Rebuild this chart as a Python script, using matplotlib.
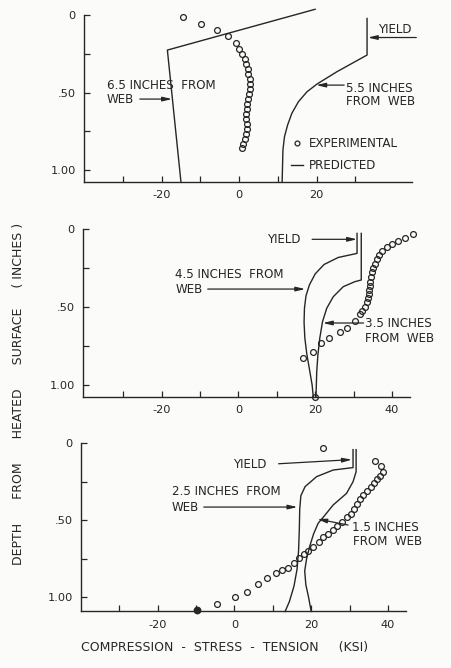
import matplotlib
matplotlib.use("Agg")
import matplotlib.pyplot as plt
from matplotlib.lines import Line2D

INK = "#262626"
BG = "#fbfbf9"
FONT = "DejaVu Sans"
LABEL_SIZE = 8.6
TICK_SIZE = 8.2

# ---- 6.5 / 5.5 inches from web ----
exp1_stress = [-14.6, -9.8, -5.8, -2.8, -0.9, 0.1, 0.8, 1.4, 1.8, 2.2, 2.4, 2.7, 2.8,
               2.8, 2.5, 2.2, 2.0, 2.0, 1.9, 1.9, 2.0, 2.0, 1.9, 1.5, 1.1, 0.8]
exp1_depth = [0.011, 0.060, 0.097, 0.133, 0.183, 0.222, 0.254, 0.286, 0.318, 0.351,
              0.383, 0.415, 0.447, 0.480, 0.512, 0.544, 0.576, 0.609, 0.641, 0.673,
              0.705, 0.738, 0.770, 0.802, 0.834, 0.860]
pred65_stress = [19.6, -18.5, -15.0]
pred65_depth = [-0.037, 0.226, 1.077]
pred55_stress = [33.0, 33.0, 25.2, 20.1, 17.5, 15.3, 13.6, 12.5, 11.7, 11.3, 11.1]
pred55_depth = [0.022, 0.258, 0.366, 0.445, 0.495, 0.559, 0.634, 0.710, 0.785, 0.871, 1.077]

# ---- 4.5 / 3.5 inches from web ----
exp2_stress = [45.4, 43.5, 41.5, 40.1, 38.8, 37.5, 36.7, 36.0, 35.5, 35.1, 34.8, 34.5,
               34.2, 34.2, 34.1, 34.0, 33.8, 33.4, 32.9, 32.3, 31.6, 30.3, 28.3, 26.4,
               23.6, 21.5, 19.3, 16.7, 19.9]
exp2_depth = [0.035, 0.063, 0.080, 0.101, 0.120, 0.144, 0.169, 0.197, 0.225, 0.254,
              0.280, 0.310, 0.340, 0.365, 0.393, 0.421, 0.446, 0.472, 0.500, 0.525,
              0.548, 0.591, 0.634, 0.659, 0.698, 0.734, 0.787, 0.830, 1.075]
pred45_stress = [30.9, 30.9, 26.0, 22.3, 20.0, 18.5, 17.6, 17.2, 17.1, 17.3, 17.8, 18.5, 19.2, 19.5]
pred45_depth = [0.031, 0.159, 0.185, 0.23, 0.29, 0.36, 0.43, 0.51, 0.60, 0.70, 0.80, 0.90, 1.00, 1.077]
pred35_stress = [32.0, 32.0, 30.3, 27.3, 24.7, 23.0, 21.9, 21.2, 20.7, 20.4, 20.2]
pred35_depth = [0.031, 0.329, 0.340, 0.372, 0.436, 0.510, 0.596, 0.700, 0.808, 0.915, 1.077]

# ---- 2.5 / 1.5 inches from web ----
exp3_stress = [23.0, 36.6, 38.3, 38.8, 37.9, 37.2, 36.3, 35.5, 34.6, 33.5, 32.7, 32.0,
               31.1, 30.3, 29.2, 27.9, 26.6, 25.6, 24.4, 23.1, 22.1, 20.5, 19.2, 18.1,
               16.9, 15.6, 14.0, 12.5, 10.8, 8.6, 6.2, 3.2, 0.1, -4.5]
exp3_depth = [0.031, 0.112, 0.147, 0.184, 0.212, 0.234, 0.260, 0.286, 0.309, 0.336,
              0.364, 0.394, 0.427, 0.459, 0.481, 0.509, 0.537, 0.564, 0.590, 0.611,
              0.640, 0.672, 0.698, 0.720, 0.748, 0.780, 0.809, 0.824, 0.846, 0.878,
              0.915, 0.965, 1.002, 1.046]
exp3_solid_stress = [-9.8]
exp3_solid_depth = [1.085]
pred25_stress = [30.9, 30.9, 25.7, 21.4, 18.4, 17.3, 17.0, 16.9, 16.7, 16.3, 15.5, 14.3, 13.2]
pred25_depth = [0.04, 0.157, 0.173, 0.216, 0.281, 0.34, 0.43, 0.56, 0.70, 0.82, 0.93, 1.03, 1.094]
pred15_stress = [31.7, 31.7, 30.9, 29.2, 25.7, 23.6, 21.8, 20.6, 19.6, 18.8, 18.3, 18.6, 19.3, 20.0]
pred15_depth = [0.04, 0.184, 0.249, 0.325, 0.401, 0.466, 0.52, 0.59, 0.67, 0.75, 0.83, 0.92, 1.00, 1.094]

plt.rcParams["font.family"] = FONT
plt.rcParams["text.color"] = INK

fig = plt.figure(figsize=(4.51, 6.68), dpi=100, facecolor=BG)

def panel(rect, xlim, ylim, xmajor):
    ax = fig.add_axes(rect)
    ax.set_facecolor("none")
    ax.set_xlim(xlim)
    ax.set_ylim(ylim)
    for s in ("top", "right"):
        ax.spines[s].set_visible(False)
    for s in ("left", "bottom"):
        ax.spines[s].set_color(INK)
        ax.spines[s].set_linewidth(1.0)
    ax.set_xticks(xmajor)
    ax.set_xticklabels(["%d" % v for v in xmajor])
    ax.set_xticks([-30, -10, 10, 30], minor=True)
    ax.set_yticks([0, 0.5, 1.0])
    ax.set_yticklabels(["0", ".50", "1.00"])
    ax.set_yticks([0.25, 0.75], minor=True)
    ax.tick_params(which="both", direction="in", length=4, width=0.9,
                   color=INK, labelcolor=INK, labelsize=TICK_SIZE, pad=6)
    return ax

def curve(ax, xs, ys):
    ax.plot(xs, ys, color=INK, lw=1.0, clip_on=False)

def circles(ax, xs, ys):
    ax.plot(xs, ys, ls="none", marker="o", ms=4.2, mfc="none", mec=INK,
            mew=0.9, clip_on=False)

def arrow(ax, xy, xytext):
    ax.annotate("", xy=xy, xytext=xytext,
                arrowprops=dict(arrowstyle="-|>,head_length=0.55,head_width=0.13",
                                color=INK, lw=0.9, shrinkA=0, shrinkB=0))

def label(ax, x, y, s):
    ax.text(x, y, s, fontsize=LABEL_SIZE, ha="left", va="center", color=INK)

# top panel
ax1 = panel([0.1863, 0.7275, 0.7273, 0.25], (-40, 44.6), (1.077, 0), [-20, 0, 20])
circles(ax1, exp1_stress, exp1_depth)
curve(ax1, pred65_stress, pred65_depth)
curve(ax1, pred55_stress, pred55_depth)
label(ax1, -34.1, 0.452, "6.5 INCHES  FROM")
label(ax1, -34.1, 0.542, "WEB")
arrow(ax1, (-17.3, 0.542), (-25.6, 0.542))
label(ax1, 27.6, 0.471, "5.5 INCHES")
label(ax1, 27.6, 0.555, "FROM  WEB")
arrow(ax1, (19.9, 0.452), (27.1, 0.452))
label(ax1, 35.9, 0.092, "YIELD")
arrow(ax1, (33.2, 0.145), (45.7, 0.145))
h_exp = Line2D([], [], ls="none", marker="o", ms=3.5, mfc="none", mec=INK, mew=0.9)
h_pre = Line2D([], [], color=INK, lw=1.0)
ax1.legend([h_exp, h_pre], ["EXPERIMENTAL", "PREDICTED"], loc="upper left",
           bbox_to_anchor=(0.63, 0.27), frameon=False, fontsize=LABEL_SIZE,
           handlelength=1.0, handletextpad=0.5, labelspacing=0.75,
           borderpad=0, borderaxespad=0, labelcolor=INK)

# middle panel
ax2 = panel([0.1840, 0.4057, 0.7251, 0.2522], (-40.5, 44.7), (1.077, 0), [-20, 0, 20, 40])
circles(ax2, exp2_stress, exp2_depth)
curve(ax2, pred45_stress, pred45_depth)
curve(ax2, pred35_stress, pred35_depth)
label(ax2, 7.4, 0.069, "YIELD")
arrow(ax2, (30.9, 0.069), (19.2, 0.069))
label(ax2, -16.5, 0.291, "4.5 INCHES  FROM")
label(ax2, -16.3, 0.387, "WEB")
arrow(ax2, (17.4, 0.387), (-8.0, 0.387))
label(ax2, 32.9, 0.61, "3.5 INCHES")
label(ax2, 32.9, 0.70, "FROM  WEB")
arrow(ax2, (22.0, 0.604), (32.6, 0.604))

# bottom panel
ax3 = panel([0.1796, 0.0846, 0.7206, 0.2515], (-40, 44.7), (1.094, 0), [-20, 0, 20, 40])
circles(ax3, exp3_stress, exp3_depth)
ax3.plot(exp3_solid_stress, exp3_solid_depth, ls="none", marker="o", ms=4.6,
         color=INK, clip_on=False)
curve(ax3, pred25_stress, pred25_depth)
curve(ax3, pred15_stress, pred15_depth)
label(ax3, -0.4, 0.14, "YIELD")
arrow(ax3, (30.6, 0.105), (11.5, 0.132))
label(ax3, -16.3, 0.314, "2.5 INCHES  FROM")
label(ax3, -16.3, 0.414, "WEB")
arrow(ax3, (16.4, 0.414), (-8.0, 0.414))
label(ax3, 30.6, 0.544, "1.5 INCHES")
label(ax3, 30.9, 0.64, "FROM  WEB")
arrow(ax3, (21.6, 0.492), (29.6, 0.531))

fig.text(0.042, 0.41, "DEPTH      FROM      HEATED      SURFACE     ( INCHES )", rotation=90,
         ha="center", va="center", fontsize=9, color=INK)
fig.text(0.497, 0.030, "COMPRESSION  -  STRESS  -  TENSION     (KSI)",
         ha="center", va="center", fontsize=9, color=INK)

fig.savefig("out.png", dpi=100, facecolor=BG)
